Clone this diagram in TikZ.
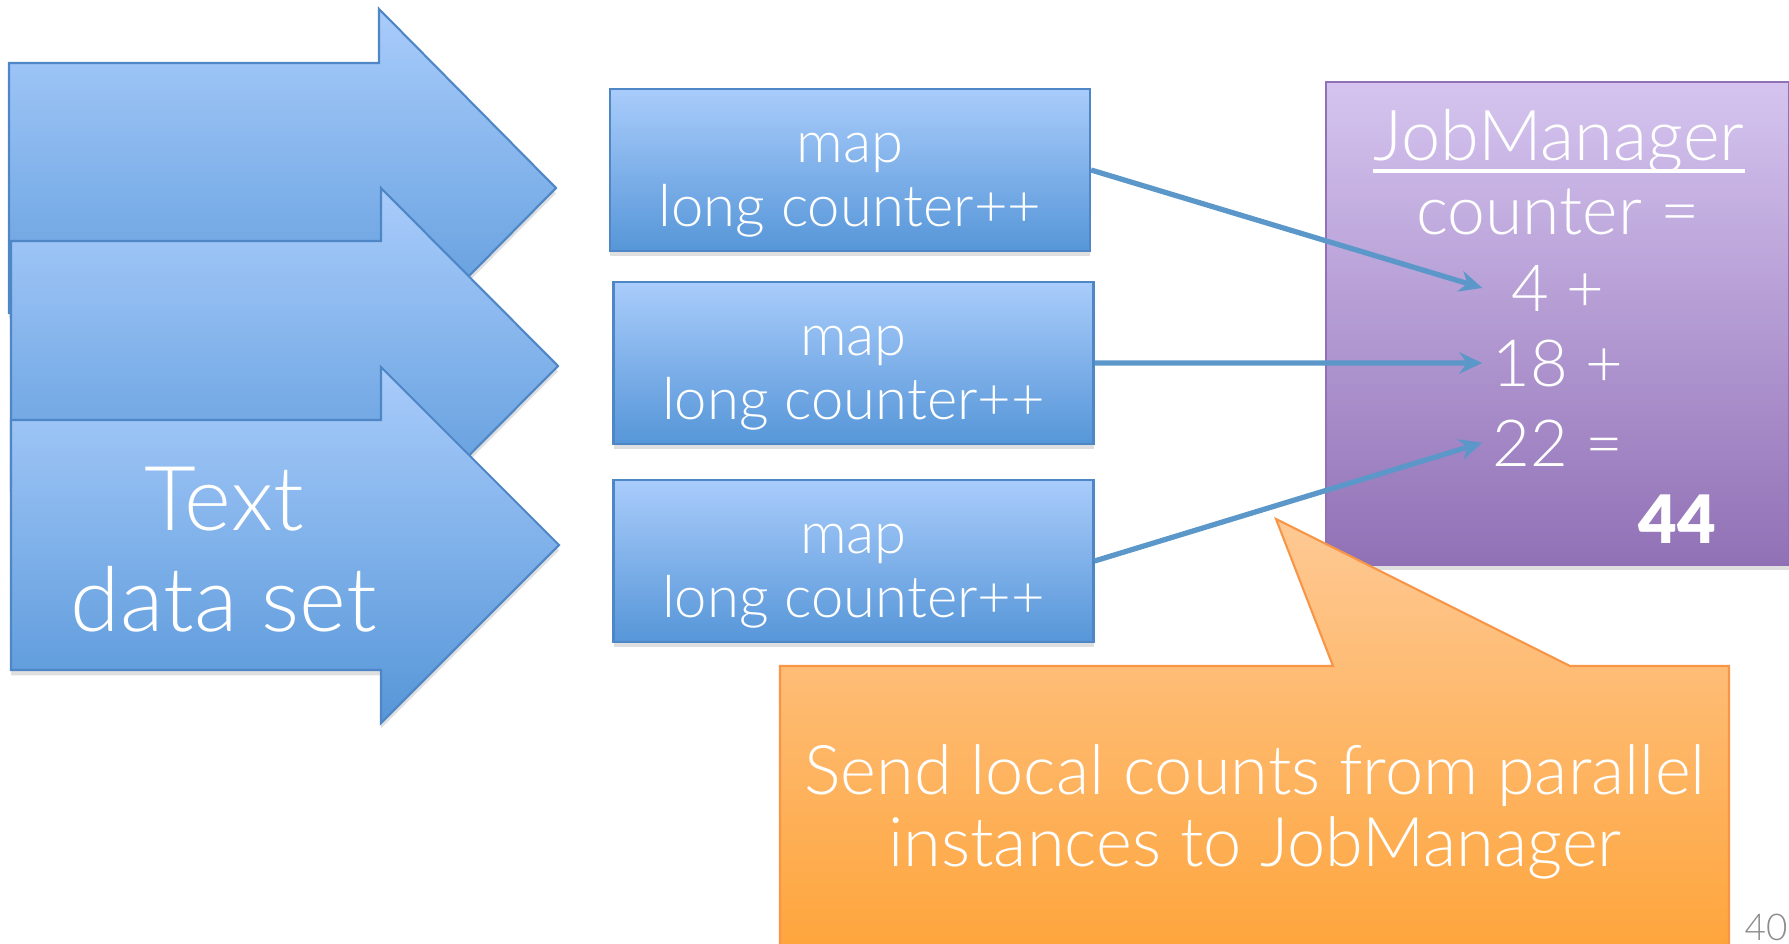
\documentclass[tikz,border=0pt]{standalone}
\usepackage{fontspec}
\setmainfont{Lato}[UprightFont={* Light},BoldFont={* Black}]
\usetikzlibrary{arrows.meta,shadows}
\definecolor{blueTop}{HTML}{A9CCFB}
\definecolor{blueBot}{HTML}{5696D8}
\definecolor{blueEdge}{HTML}{4F86C6}
\definecolor{purpleTop}{HTML}{D5C4EF}
\definecolor{purpleBot}{HTML}{9171B6}
\definecolor{orangeTop}{HTML}{FEC994}
\definecolor{orangeBot}{HTML}{FEA43A}
\definecolor{orangeEdge}{HTML}{F79646}
\definecolor{connBlue}{HTML}{5B97C9}

\begin{document}
\begin{tikzpicture}[x=0.1mm,y=-0.1mm]
\tikzstyle{every node}=[text=white,inner sep=0pt]
\tikzstyle{soft shadow}=[drop shadow={opacity=0.25,shadow xshift=0pt,shadow yshift=-1.5pt}]
\tikzstyle{bigarrow}=[draw=blueEdge,line width=0.6pt,top color=blueTop,bottom color=blueBot,soft shadow]
\tikzstyle{mapbox}=[rectangle,draw=blueEdge,line width=0.6pt,top color=blueTop,bottom color=blueBot,
  minimum width=48mm,minimum height=16.2mm,align=center,font=\fontsize{16.5}{18.2}\selectfont,soft shadow]
\tikzstyle{jmbox}=[rectangle,draw=purpleBot,line width=0.6pt,top color=purpleTop,bottom color=purpleBot,
  minimum width=46.3mm,minimum height=48.3mm,soft shadow]
\tikzstyle{jmline}=[font=\fontsize{18.5}{21}\selectfont,anchor=base]
\tikzstyle{numline}=[jmline,minimum width=15mm]
\tikzstyle{conn}=[-{Stealth[length=6.5pt,width=6pt]},line width=1.5pt,draw=connBlue]
\tikzstyle{callout}=[draw=orangeEdge,line width=0.6pt,top color=orangeTop,bottom color=orangeBot]

\useasboundingbox (0,0) rectangle (1789,943);

\begin{scope}
\draw[bigarrow] (9,63) -- (379,63) -- (379,9) -- (556,188) -- (379,367) -- (379,313) -- (9,313) -- cycle;
\draw[bigarrow] (11,241) -- (381,241) -- (381,188) -- (558,366) -- (381,544) -- (381,491) -- (11,491) -- cycle;
\draw[bigarrow] (11,420) -- (381,420) -- (381,367) -- (559,545) -- (381,723) -- (381,670) -- (11,670) -- cycle;
\node[align=center,font=\fontsize{25.5}{28.7}\selectfont] (data) at (224,550) {Text\\data set};
\end{scope}

\node[mapbox] (map1) at (850,170) {\rule{0pt}{17pt}map\\long counter++};
\node[mapbox] (map2) at (853.5,363) {\rule{0pt}{17pt}map\\long counter++};
\node[mapbox] (map3) at (853.5,561) {\rule{0pt}{17pt}map\\long counter++};

\node[jmbox] (jmgr) at (1557.5,323.5) {};
\node[jmline,font=\fontsize{20}{21}\selectfont] (jm) at (1559,160) {JobManager};
\draw[white,line width=1.3pt] ([yshift=-1.1mm]jm.base west) -- ([yshift=-1.1mm]jm.base east);
\node[jmline,font=\fontsize{19.3}{21}\selectfont] (cnt) at (1558,234) {counter =};
\node[numline] (n4) at (1558,311) {4 +};
\node[numline] (n18) at (1558,386) {18 +};
\node[numline] (n22) at (1558,466) {22 =};
\node[jmline,font=\fontsize{19}{21}\selectfont\bfseries] (sum) at (1677,543) {44};

\draw[conn] (map1.east) -- (n4.west);
\draw[conn] (map2.east) -- (n18.west);
\draw[conn] (map3.east) -- (n22.west);

\draw[callout] (780,666) -- (1333,666) -- (1276,519) -- (1570,666) -- (1729,666) -- (1729,960) -- (780,960) -- cycle;
\node[align=center,font=\fontsize{19.5}{20.5}\selectfont] (note) at (1255,812) {Send local counts from parallel\\instances to JobManager};

\node[text=gray!90,font=\fontsize{10.5}{12}\selectfont,anchor=base] (page) at (1766,940) {40};
\end{tikzpicture}
\end{document}
